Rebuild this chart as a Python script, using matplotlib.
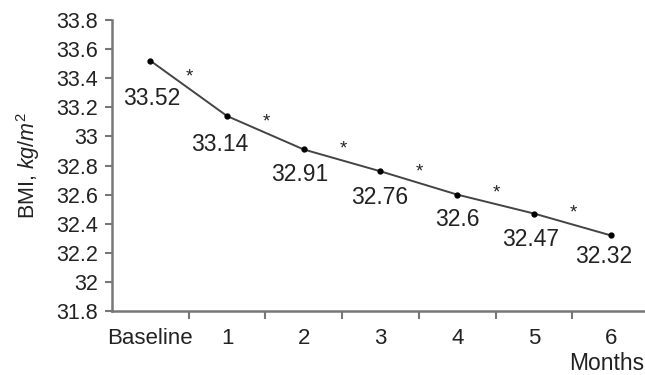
import matplotlib
matplotlib.use("Agg")
import matplotlib.pyplot as plt

categories = ["Baseline", "1", "2", "3", "4", "5", "6"]
bmi = [33.52, 33.14, 32.91, 32.76, 32.6, 32.47, 32.32]
value_labels = ["33.52", "33.14", "32.91", "32.76", "32.6", "32.47", "32.32"]
y_ticks = [31.8, 32.0, 32.2, 32.4, 32.6, 32.8, 33.0, 33.2, 33.4, 33.6, 33.8]
y_tick_labels = ["31.8", "32", "32.2", "32.4", "32.6", "32.8", "33", "33.2", "33.4", "33.6", "33.8"]

plt.rcParams['font.family'] = ['Liberation Sans', 'DejaVu Sans']
plt.rcParams['mathtext.fontset'] = 'custom'
plt.rcParams['mathtext.rm'] = 'Liberation Sans'
plt.rcParams['mathtext.it'] = 'Liberation Sans:italic'

TXT = '#222222'
fig = plt.figure(figsize=(6.45, 3.75), dpi=100)
ax = fig.add_axes([112/645, 1-311/375, (649-112)/645, (311-20)/375])

x = list(range(len(categories)))
ax.plot(x, bmi, color='#444444', lw=1.4, marker='o', ms=3.5, mfc='black', mec='black', zorder=3)

label_dx = [1, -7, -4, -1, 0, -3, -7]
label_dy = [-38, -28, -25, -26, -25, -26, -21]
for i, (v, t) in enumerate(zip(bmi, value_labels)):
    ax.annotate(t, (i, v), xytext=(label_dx[i], label_dy[i]), textcoords='offset pixels',
                ha='center', va='center', fontsize=16.5, color=TXT)

for i in range(len(bmi) - 1):
    mid = (bmi[i] + bmi[i+1]) / 2
    ax.annotate('*', (i + 0.5, mid), xytext=(1, 11), textcoords='offset pixels',
                ha='center', va='center', fontsize=13.5, color=TXT)

ax.set_xlim(-0.5, 6.5)
ax.set_ylim(31.8, 33.8)
ax.set_yticks(y_ticks)
ax.set_yticklabels(y_tick_labels, fontsize=15.5, color=TXT)

ax.set_xticks([i + 0.5 for i in range(6)])
ax.set_xticklabels([])
ax.set_xticks(x, minor=True)
ax.set_xticklabels(categories, minor=True, fontsize=16, color=TXT)
ax.tick_params(axis='x', which='minor', length=0, pad=12)
ax.tick_params(axis='x', which='major', length=6, width=1.5, color='#777777', direction='out')
ax.tick_params(axis='y', length=5, width=1.5, color='#777777', pad=5)

for s in ['top', 'right']:
    ax.spines[s].set_visible(False)
for s in ['left', 'bottom']:
    ax.spines[s].set_color('#777777')
    ax.spines[s].set_linewidth(1.8)

ax.set_ylabel('BMI, $kg/m^2$', fontsize=15.5, color=TXT, labelpad=10)
fig.text(569/645, 1-363/375, 'Months', ha='left', va='center', fontsize=16.5, color=TXT)

fig.savefig('out.png', dpi=100)
